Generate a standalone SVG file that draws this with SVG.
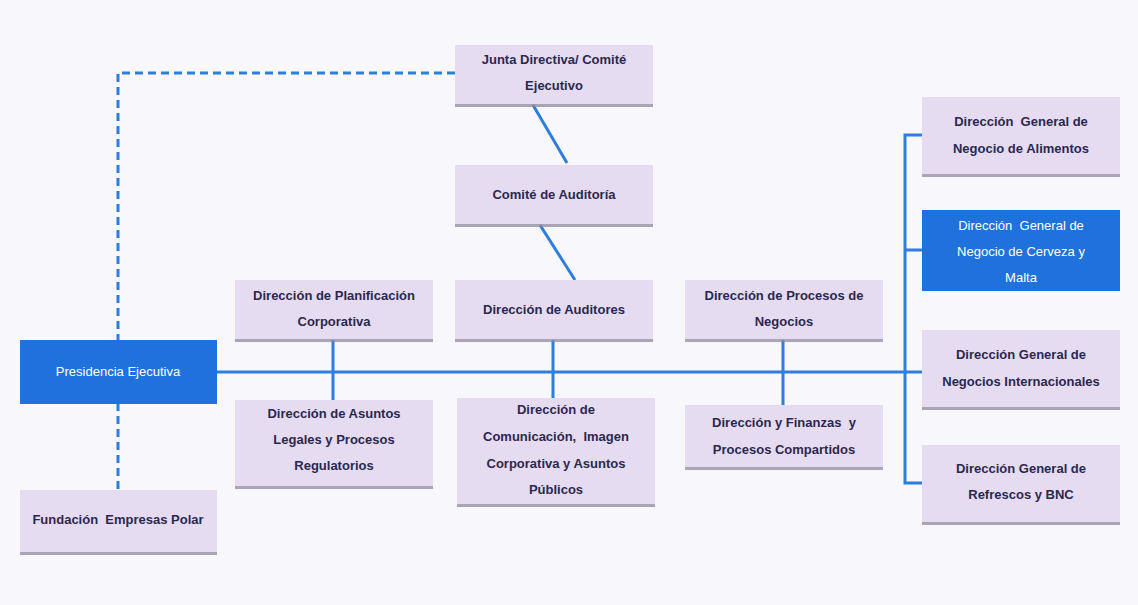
<svg xmlns="http://www.w3.org/2000/svg" width="1138" height="605" viewBox="0 0 1138 605">
<defs>
<style>
.bg{fill:#f8f8fc}
.box{fill:#e5dcf1}
.sh{fill:#8f889f;opacity:0.75}
.blue{fill:#1f72dc}
.t{font-family:"Liberation Sans",Arial,sans-serif;font-size:13px;font-weight:bold;fill:#2b2850;text-anchor:middle}
.tw{font-family:"Liberation Sans",Arial,sans-serif;font-size:13px;fill:#ffffff;text-anchor:middle}
.ln{stroke:#2f7ddf;stroke-width:3;fill:none}
.dash{stroke:#2f7ddf;stroke-width:3;fill:none;stroke-dasharray:8 5}
</style>
</defs>
<rect class="bg" x="0" y="0" width="1138" height="605"/>
<g id="connectors">
<path class="dash" d="M455,73 H118 V340"/>
<path class="dash" d="M118,403 V490"/>
<path class="ln" d="M533,105 L567,163"/>
<path class="ln" d="M540,225 L575,280"/>
<path class="ln" d="M217,372 H922"/>
<path class="ln" d="M333,340 V400"/>
<path class="ln" d="M553,340 V398"/>
<path class="ln" d="M783,340 V405"/>
<path class="ln" d="M922,135 H905 V483 H922"/>
<path class="ln" d="M905,250 H922"/>
</g>
<g id="junta">
<rect class="sh" x="455" y="47" width="198" height="60"/>
<rect class="box" x="455" y="45" width="198" height="59"/>
<text class="t" x="554" y="64">Junta Directiva/ Comité</text>
<text class="t" x="554" y="90">Ejecutivo</text>
</g>
<g id="comite">
<rect class="sh" x="455" y="167" width="198" height="60"/>
<rect class="box" x="455" y="165" width="198" height="59"/>
<text class="t" x="554" y="199">Comité de Auditoría</text>
</g>
<g id="auditores">
<rect class="sh" x="455" y="282" width="198" height="60"/>
<rect class="box" x="455" y="280" width="198" height="59"/>
<text class="t" x="554" y="314">Dirección de Auditores</text>
</g>
<g id="planificacion">
<rect class="sh" x="235" y="282" width="198" height="60"/>
<rect class="box" x="235" y="280" width="198" height="59"/>
<text class="t" x="334" y="300">Dirección de Planificación</text>
<text class="t" x="334" y="326">Corporativa</text>
</g>
<g id="procesos">
<rect class="sh" x="685" y="282" width="198" height="60"/>
<rect class="box" x="685" y="280" width="198" height="59"/>
<text class="t" x="784" y="300">Dirección de Procesos de</text>
<text class="t" x="784" y="326">Negocios</text>
</g>
<g id="presidencia">
<rect class="blue" x="20" y="340" width="197" height="64"/>
<text class="tw" x="118" y="376">Presidencia Ejecutiva</text>
</g>
<g id="fundacion">
<rect class="sh" x="20" y="492" width="197" height="63"/>
<rect class="box" x="20" y="490" width="197" height="62"/>
<text class="t" x="118" y="524" xml:space="preserve">Fundación  Empresas Polar</text>
</g>
<g id="legales">
<rect class="sh" x="235" y="402" width="198" height="87"/>
<rect class="box" x="235" y="400" width="198" height="86"/>
<text class="t" x="334" y="418">Dirección de Asuntos</text>
<text class="t" x="334" y="444">Legales y Procesos</text>
<text class="t" x="334" y="470">Regulatorios</text>
</g>
<g id="comunicacion">
<rect class="sh" x="457" y="400" width="198" height="107"/>
<rect class="box" x="457" y="398" width="198" height="106"/>
<text class="t" x="556" y="414">Dirección de</text>
<text class="t" x="556" y="441" xml:space="preserve">Comunicación,  Imagen</text>
<text class="t" x="556" y="468">Corporativa y Asuntos</text>
<text class="t" x="556" y="494">Públicos</text>
</g>
<g id="finanzas">
<rect class="sh" x="685" y="407" width="198" height="63"/>
<rect class="box" x="685" y="405" width="198" height="62"/>
<text class="t" x="784" y="427" xml:space="preserve">Dirección y Finanzas  y</text>
<text class="t" x="784" y="454">Procesos Compartidos</text>
</g>
<g id="alimentos">
<rect class="sh" x="922" y="99" width="198" height="78"/>
<rect class="box" x="922" y="97" width="198" height="77"/>
<text class="t" x="1021" y="126" xml:space="preserve">Dirección  General de</text>
<text class="t" x="1021" y="153">Negocio de Alimentos</text>
</g>
<g id="cerveza">
<rect class="blue" x="922" y="210" width="198" height="81"/>
<text class="tw" x="1021" y="230" xml:space="preserve">Dirección  General de</text>
<text class="tw" x="1021" y="256">Negocio de Cerveza y</text>
<text class="tw" x="1021" y="282">Malta</text>
</g>
<g id="internacionales">
<rect class="sh" x="922" y="332" width="198" height="78"/>
<rect class="box" x="922" y="330" width="198" height="77"/>
<text class="t" x="1021" y="359">Dirección General de</text>
<text class="t" x="1021" y="386">Negocios Internacionales</text>
</g>
<g id="refrescos">
<rect class="sh" x="922" y="447" width="198" height="78"/>
<rect class="box" x="922" y="445" width="198" height="77"/>
<text class="t" x="1021" y="473">Dirección General de</text>
<text class="t" x="1021" y="499">Refrescos y BNC</text>
</g>
</svg>
